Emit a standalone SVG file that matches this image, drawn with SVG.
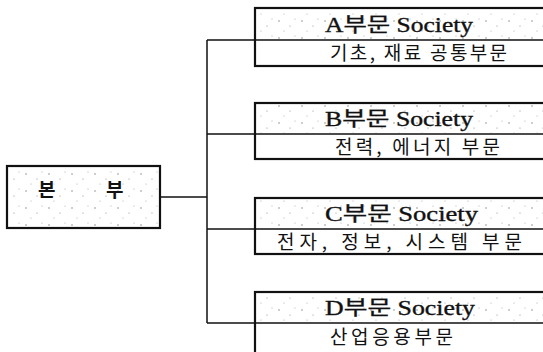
<svg xmlns="http://www.w3.org/2000/svg" width="543" height="352" viewBox="0 0 543 352">
<style>
.box{fill:#fff;stroke:#111;stroke-width:2.2}
.div{stroke:#111;stroke-width:1.6}
.conn{stroke:#111;stroke-width:1.5;fill:none}
.h{font-family:"Liberation Serif","Noto Sans CJK KR",serif;font-size:20px;fill:#111;stroke:#111;stroke-width:0.35}
.s{font-family:"Noto Sans CJK KR","Noto Sans",sans-serif;font-size:19px;fill:#111}
.m{font-family:"Noto Sans CJK KR","Noto Sans",sans-serif;font-size:19px;font-weight:bold;fill:#111}
</style>
<defs>
<pattern id="spk" width="23" height="17" patternUnits="userSpaceOnUse">
<circle cx="3" cy="4" r="0.7" fill="#777"/>
<circle cx="14" cy="9" r="0.6" fill="#888"/>
<circle cx="8" cy="14" r="0.5" fill="#999"/>
<circle cx="19" cy="2" r="0.5" fill="#999"/>
</pattern>
</defs>
<g id="connectors">
<path class="conn" d="M160 197 H207 M207 40 V323 M207 40 H255 M207 134 H255 M207 229 H255 M207 323 H255"/>
</g>
<g id="main">
<rect class="box" x="7" y="166" width="153" height="62" stroke-width="2.6"/>
<rect x="9" y="168" width="149" height="58" fill="url(#spk)"/>
<text class="m" x="38" y="197">본</text>
<text class="m" x="106" y="197">부</text>
</g>
<g id="nodeA">
<rect class="box" x="255" y="8" width="300" height="58"/>
<rect x="257" y="10" width="290" height="29" fill="url(#spk)"/>
<line class="div" x1="255" y1="40" x2="555" y2="40"/>
<text class="h" x="325" y="32" textLength="148" lengthAdjust="spacingAndGlyphs">A부문 Society</text>
<text class="s" x="330" y="60" textLength="177" lengthAdjust="spacing">기초, 재료 공통부문</text>
</g>
<g id="nodeB">
<rect class="box" x="255" y="103" width="300" height="56"/>
<rect x="257" y="105" width="290" height="28" fill="url(#spk)"/>
<line class="div" x1="255" y1="134" x2="555" y2="134"/>
<text class="h" x="325" y="126" textLength="148" lengthAdjust="spacingAndGlyphs">B부문 Society</text>
<text class="s" x="335" y="154" textLength="165" lengthAdjust="spacing">전력, 에너지 부문</text>
</g>
<g id="nodeC">
<rect class="box" x="255" y="198" width="300" height="56"/>
<rect x="257" y="200" width="290" height="28" fill="url(#spk)"/>
<line class="div" x1="255" y1="229" x2="555" y2="229"/>
<text class="h" x="325" y="221" textLength="153" lengthAdjust="spacingAndGlyphs">C부문 Society</text>
<text class="s" x="277" y="249" textLength="245" lengthAdjust="spacing">전자, 정보, 시스템 부문</text>
</g>
<g id="nodeD">
<rect class="box" x="255" y="292" width="300" height="70"/>
<rect x="257" y="294" width="290" height="28" fill="url(#spk)"/>
<line class="div" x1="255" y1="323" x2="555" y2="323"/>
<text class="h" x="325" y="315" textLength="150" lengthAdjust="spacingAndGlyphs">D부문 Society</text>
<text class="s" x="330" y="344" textLength="123" lengthAdjust="spacing">산업응용부문</text>
</g>
</svg>
